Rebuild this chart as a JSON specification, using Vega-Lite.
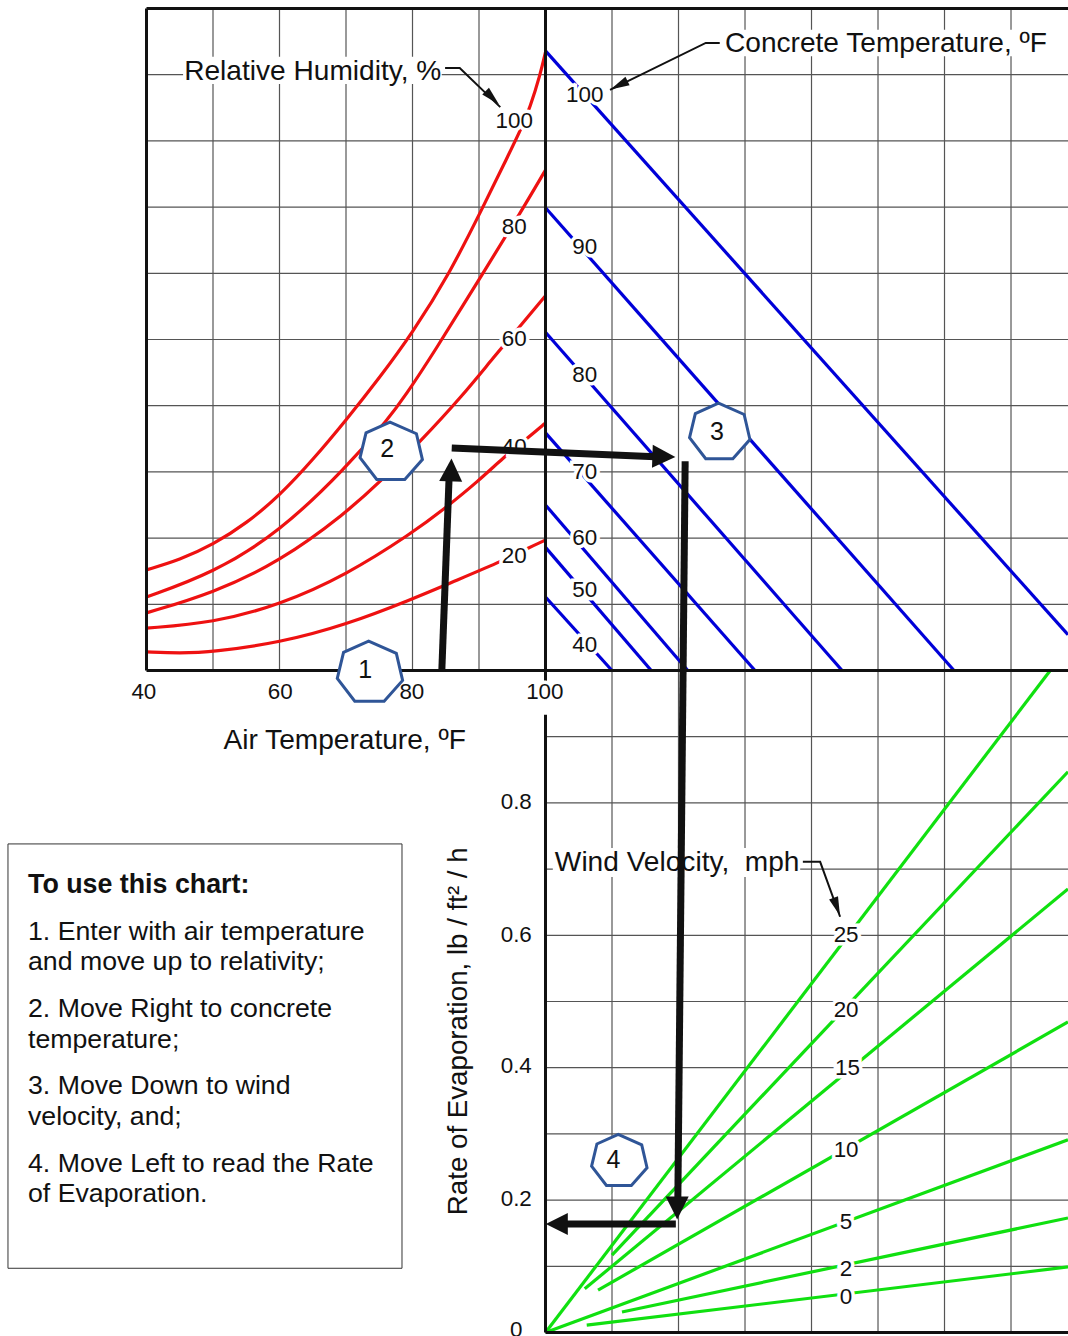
{
"$schema":"https://vega.github.io/schema/vega-lite/v6.json",
"autosize":{"type":"none"},
"width":1068,"height":1336,"padding":0,"background":"white",
"config":{"view":{"stroke":null},"text":{"font":"Liberation Sans"}},
"datasets":{
"gridH":[{"x":40,"x2":178.57,"y":1.1},{"x":40,"x2":178.57,"y":1.2},{"x":40,"x2":178.57,"y":1.3},{"x":40,"x2":178.57,"y":1.4},{"x":40,"x2":178.57,"y":1.5},{"x":40,"x2":178.57,"y":1.6},{"x":40,"x2":178.57,"y":1.7},{"x":40,"x2":178.57,"y":1.8},{"x":40,"x2":178.57,"y":1.9},
{"x":100,"x2":178.57,"y":0.1},{"x":100,"x2":178.57,"y":0.2},{"x":100,"x2":178.57,"y":0.3},{"x":100,"x2":178.57,"y":0.4},{"x":100,"x2":178.57,"y":0.5},{"x":100,"x2":178.57,"y":0.6},{"x":100,"x2":178.57,"y":0.7},{"x":100,"x2":178.57,"y":0.8},{"x":100,"x2":178.57,"y":0.9}],
"gridV":[{"x":50,"y":1,"y2":2},{"x":60,"y":1,"y2":2},{"x":70,"y":1,"y2":2},{"x":80,"y":1,"y2":2},{"x":90,"y":1,"y2":2},{"x":110,"y":0,"y2":2},{"x":120,"y":0,"y2":2},{"x":130,"y":0,"y2":2},{"x":140,"y":0,"y2":2},{"x":150,"y":0,"y2":2},{"x":160,"y":0,"y2":2},{"x":170,"y":0,"y2":2}],
"frameH":[{"x":40,"x2":178.57,"y":2},{"x":40,"x2":178.57,"y":1},{"x":100,"x2":178.57,"y":0}],
"frameV":[{"x":40,"y":1,"y2":2},{"x":100,"y":0.981,"y2":2},{"x":100,"y":0,"y2":0.933}],
"backs":[{"x":45.5,"x2":84.4,"y":1.927,"y2":1.886},{"x":126.5,"x2":175.9,"y":1.968,"y2":1.928},{"x":101.1,"x2":138.3,"y":0.732,"y2":0.688}],
"red":[
{"k":100,"x":40,"y":1.152},{"k":100,"x":45,"y":1.167},{"k":100,"x":50,"y":1.19},{"k":100,"x":55,"y":1.222},{"k":100,"x":60,"y":1.264},{"k":100,"x":65,"y":1.318},{"k":100,"x":70,"y":1.378},{"k":100,"x":75.1,"y":1.443},{"k":100,"x":80,"y":1.51},{"k":100,"x":85.6,"y":1.6},{"k":100,"x":90.6,"y":1.7},{"k":100,"x":94,"y":1.77},{"k":100,"x":96.2,"y":1.815},{"k":100,"x":97.7,"y":1.851},{"k":100,"x":99.2,"y":1.9},{"k":100,"x":100,"y":1.934},
{"k":80,"x":40,"y":1.111},{"k":80,"x":50,"y":1.147},{"k":80,"x":60,"y":1.209},{"k":80,"x":70,"y":1.306},{"k":80,"x":76.6,"y":1.383},{"k":80,"x":78.9,"y":1.415},{"k":80,"x":82.9,"y":1.475},{"k":80,"x":91.2,"y":1.61},{"k":80,"x":96.2,"y":1.691},{"k":80,"x":100,"y":1.756},
{"k":60,"x":40,"y":1.087},{"k":60,"x":50,"y":1.117},{"k":60,"x":60,"y":1.164},{"k":60,"x":70,"y":1.238},{"k":60,"x":75.1,"y":1.285},{"k":60,"x":81.1,"y":1.345},{"k":60,"x":87.6,"y":1.416},{"k":60,"x":92.1,"y":1.472},{"k":60,"x":96.6,"y":1.525},{"k":60,"x":100,"y":1.566},
{"k":40,"x":40,"y":1.064},{"k":40,"x":50,"y":1.072},{"k":40,"x":60,"y":1.099},{"k":40,"x":70,"y":1.144},{"k":40,"x":80,"y":1.208},{"k":40,"x":84.9,"y":1.245},{"k":40,"x":90,"y":1.287},{"k":40,"x":93.6,"y":1.321},{"k":40,"x":97.4,"y":1.352},{"k":40,"x":100,"y":1.374},
{"k":20,"x":40,"y":1.028},{"k":20,"x":45,"y":1.026},{"k":20,"x":50,"y":1.028},{"k":20,"x":60,"y":1.042},{"k":20,"x":70,"y":1.069},{"k":20,"x":80,"y":1.108},{"k":20,"x":85.6,"y":1.132},{"k":20,"x":93.2,"y":1.164},{"k":20,"x":97.4,"y":1.185},{"k":20,"x":100,"y":1.197}],
"blue":[
{"k":100,"x":100,"y":1.936},{"k":100,"x":178.57,"y":1.054},
{"k":90,"x":100,"y":1.699},{"k":90,"x":161.43,"y":1},
{"k":80,"x":100,"y":1.511},{"k":80,"x":144.6,"y":1},
{"k":70,"x":100,"y":1.359},{"k":70,"x":131.5,"y":1},
{"k":60,"x":100,"y":1.25},{"k":60,"x":121.4,"y":1},
{"k":50,"x":100,"y":1.186},{"k":50,"x":115.9,"y":1},
{"k":40,"x":100,"y":1.111},{"k":40,"x":110,"y":1}],
"green":[
{"k":25,"x":100,"y":0},{"k":25,"x":175.9,"y":1},
{"k":20,"x":110,"y":0.117},{"k":20,"x":178.57,"y":0.847},
{"k":15,"x":105.9,"y":0.066},{"k":15,"x":178.57,"y":0.67},
{"k":10,"x":107.9,"y":0.064},{"k":10,"x":178.57,"y":0.469},
{"k":5,"x":100,"y":0},{"k":5,"x":178.57,"y":0.291},
{"k":2,"x":111.5,"y":0.031},{"k":2,"x":178.57,"y":0.173},
{"k":0,"x":106.2,"y":0.011},{"k":0,"x":178.57,"y":0.099}],
"small":[
{"t":"40","x":39.6,"y":0.969},{"t":"60","x":60.1,"y":0.969},{"t":"80","x":79.9,"y":0.969},{"t":"100","x":99.9,"y":0.969},
{"t":"0.8","x":95.6,"y":0.803},{"t":"0.6","x":95.6,"y":0.602},{"t":"0.4","x":95.6,"y":0.404},{"t":"0.2","x":95.6,"y":0.203},{"t":"0","x":95.6,"y":0.005},
{"t":"100","x":95.3,"y":1.832},{"t":"80","x":95.3,"y":1.671},{"t":"60","x":95.3,"y":1.502},{"t":"40","x":95.3,"y":1.339},{"t":"20","x":95.3,"y":1.174},
{"t":"100","x":105.9,"y":1.871},{"t":"90","x":105.9,"y":1.641},{"t":"80","x":105.9,"y":1.448},{"t":"70","x":105.9,"y":1.301},{"t":"60","x":105.9,"y":1.202},{"t":"50","x":105.9,"y":1.123},{"t":"40","x":105.9,"y":1.04},
{"t":"25","x":145.2,"y":0.602},{"t":"20","x":145.2,"y":0.489},{"t":"15","x":145.4,"y":0.401},{"t":"10","x":145.2,"y":0.277},{"t":"5","x":145.2,"y":0.168},{"t":"2","x":145.2,"y":0.097},{"t":"0","x":145.2,"y":0.055}],
"titles":[
{"t":"Relative Humidity, %","x":65,"y":1.907},
{"t":"Concrete Temperature, ºF","x":151.2,"y":1.948},
{"t":"Air Temperature, ºF","x":69.8,"y":0.895},
{"t":"Wind Velocity,\u00a0 mph","x":119.8,"y":0.711}],
"leaders":[
{"k":"rh","o":1,"x":84.9,"y":1.91},{"k":"rh","o":2,"x":87.1,"y":1.91},{"k":"rh","o":3,"x":93.2,"y":1.851},
{"k":"ct","o":1,"x":126.2,"y":1.948},{"k":"ct","o":2,"x":124.1,"y":1.948},{"k":"ct","o":3,"x":109.7,"y":1.877},
{"k":"wv","o":1,"x":138.7,"y":0.711},{"k":"wv","o":2,"x":141.3,"y":0.711},{"k":"wv","o":3,"x":144.3,"y":0.628}],
"arrows":[
{"k":"1","o":1,"x":84.4,"y":0.998},{"k":"1","o":2,"x":85.5,"y":1.291},
{"k":"2","o":1,"x":85.9,"y":1.336},{"k":"2","o":2,"x":116.5,"y":1.323},
{"k":"3","o":1,"x":121,"y":1.316},{"k":"3","o":2,"x":119.9,"y":0.2},
{"k":"4","o":1,"x":119.6,"y":0.164},{"k":"4","o":2,"x":102.9,"y":0.164}],
"steps":[{"t":"1","x":72.9,"y":1.0005},{"t":"2","x":76.2,"y":1.335},{"t":"3","x":125.8,"y":1.36},{"t":"4","x":110.2,"y":0.26}],
"note":[
{"t":"1. Enter with air temperature","x":22.18,"y":0.606},
{"t":"and move up to relativity;","x":22.18,"y":0.561},
{"t":"2. Move Right to concrete","x":22.18,"y":0.49},
{"t":"temperature;","x":22.18,"y":0.443},
{"t":"3. Move Down to wind","x":22.18,"y":0.374},
{"t":"velocity, and;","x":22.18,"y":0.327},
{"t":"4. Move Left to read the Rate","x":22.18,"y":0.256},
{"t":"of Evaporation.","x":22.18,"y":0.211}]
},
"encoding":{
"x":{"field":"x","type":"quantitative","axis":null,"scale":{"domain":[17.97,178.57],"nice":false,"zero":false}},
"y":{"field":"y","type":"quantitative","axis":null,"scale":{"domain":[-0.0053,2.0128],"nice":false,"zero":false}}
},
"layer":[
{"data":{"name":"gridH"},"mark":{"type":"rule","color":"#555","strokeWidth":1.2},"encoding":{"x2":{"field":"x2"}}},
{"data":{"name":"gridV"},"mark":{"type":"rule","color":"#555","strokeWidth":1.2},"encoding":{"y2":{"field":"y2"}}},
{"data":{"name":"red"},"mark":{"type":"line","color":"#ee1111","strokeWidth":3.2,"interpolate":"basis"},"encoding":{"detail":{"field":"k"}}},
{"data":{"name":"blue"},"mark":{"type":"line","color":"#0000d8","strokeWidth":3.2},"encoding":{"detail":{"field":"k"}}},
{"data":{"name":"green"},"mark":{"type":"line","color":"#10e010","strokeWidth":3.2},"encoding":{"detail":{"field":"k"}}},
{"data":{"name":"frameH"},"mark":{"type":"rule","color":"#111","strokeWidth":3},"encoding":{"x2":{"field":"x2"}}},
{"data":{"name":"frameV"},"mark":{"type":"rule","color":"#111","strokeWidth":3},"encoding":{"y2":{"field":"y2"}}},
{"data":{"name":"backs"},"mark":{"type":"rect","fill":"white","stroke":null},"encoding":{"x2":{"field":"x2"},"y2":{"field":"y2"}}},
{"data":{"name":"small"},"mark":{"type":"text","fontSize":22.4,"font":"Liberation Sans","fill":"white","stroke":"white","strokeWidth":7,"baseline":"middle","dy":1},"encoding":{"text":{"field":"t"}}},
{"data":{"name":"small"},"mark":{"type":"text","fontSize":22.4,"font":"Liberation Sans","color":"#111","baseline":"middle","dy":1},"encoding":{"text":{"field":"t"}}},
{"data":{"name":"titles"},"mark":{"type":"text","fontSize":28.1,"font":"Liberation Sans","color":"#111","baseline":"middle","dy":1.5},"encoding":{"text":{"field":"t"}}},
{"data":{"values":[{"t":"Rate of Evaporation, lb / ft² / h","x":87,"y":0.455}]},"mark":{"type":"text","fontSize":27.7,"font":"Liberation Sans","color":"#111","baseline":"middle","angle":270},"encoding":{"text":{"field":"t"}}},
{"data":{"name":"leaders"},"mark":{"type":"line","color":"#111","strokeWidth":2},"encoding":{"detail":{"field":"k"},"order":{"field":"o"}}},
{"data":{"values":[{"x":92,"y":1.865}]},"mark":{"type":"point","shape":"M0,-1L0.5,1L-0.5,1Z","filled":true,"opacity":1,"color":"#111","size":360,"angle":135}},
{"data":{"values":[{"x":111.05,"y":1.884}]},"mark":{"type":"point","shape":"M0,-1L0.5,1L-0.5,1Z","filled":true,"opacity":1,"color":"#111","size":360,"angle":244}},
{"data":{"values":[{"x":143.8,"y":0.643}]},"mark":{"type":"point","shape":"M0,-1L0.5,1L-0.5,1Z","filled":true,"opacity":1,"color":"#111","size":360,"angle":160}},
{"data":{"name":"arrows"},"mark":{"type":"line","color":"#111","strokeWidth":7},"encoding":{"detail":{"field":"k"},"order":{"field":"o"}}},
{"data":{"values":[{"x":85.8,"y":1.303}]},"mark":{"type":"point","shape":"M0,-1L1,1L-1,1Z","filled":true,"opacity":1,"color":"#111","size":529,"angle":2}},
{"data":{"values":[{"x":117.8,"y":1.323}]},"mark":{"type":"point","shape":"M0,-1L1,1L-1,1Z","filled":true,"opacity":1,"color":"#111","size":529,"angle":92}},
{"data":{"values":[{"x":119.8,"y":0.188}]},"mark":{"type":"point","shape":"M0,-1L1,1L-1,1Z","filled":true,"opacity":1,"color":"#111","size":529,"angle":180}},
{"data":{"values":[{"x":101.7,"y":0.164}]},"mark":{"type":"point","shape":"M0,-1L1,1L-1,1Z","filled":true,"opacity":1,"color":"#111","size":484,"angle":270}},
{"data":{"values":[{"x":73.6,"y":0.997}]},"mark":{"type":"point","shape":"M-0.04,-0.95L0.8,-0.58L0.99,0.24L0.43,0.87L-0.46,0.87L-0.99,0.18L-0.8,-0.61Z","filled":true,"fill":"white","stroke":"#2f5597","strokeWidth":3,"opacity":1,"size":4356}},
{"data":{"values":[{"x":76.8,"y":1.330}]},"mark":{"type":"point","shape":"M-0.04,-0.95L0.8,-0.58L0.99,0.24L0.43,0.87L-0.46,0.87L-0.99,0.18L-0.8,-0.61Z","filled":true,"fill":"white","stroke":"#2f5597","strokeWidth":3,"opacity":1,"size":3969}},
{"data":{"values":[{"x":126.2,"y":1.360}]},"mark":{"type":"point","shape":"M-0.04,-0.95L0.8,-0.58L0.99,0.24L0.43,0.87L-0.46,0.87L-0.99,0.18L-0.8,-0.61Z","filled":true,"fill":"white","stroke":"#2f5597","strokeWidth":3,"opacity":1,"size":3721}},
{"data":{"values":[{"x":111.1,"y":0.259}]},"mark":{"type":"point","shape":"M-0.04,-0.95L0.8,-0.58L0.99,0.24L0.43,0.87L-0.46,0.87L-0.99,0.18L-0.8,-0.61Z","filled":true,"fill":"white","stroke":"#2f5597","strokeWidth":3,"opacity":1,"size":3136}},
{"data":{"name":"steps"},"mark":{"type":"text","fontSize":25,"font":"Liberation Sans","color":"#111","baseline":"middle"},"encoding":{"text":{"field":"t"}}},
{"data":{"values":[{"x":19.17,"x2":78.42,"y":0.738,"y2":0.097}]},"mark":{"type":"rect","fill":"white","stroke":"#333","strokeWidth":1},"encoding":{"x2":{"field":"x2"},"y2":{"field":"y2"}}},
{"data":{"values":[{"t":"To use this chart:","x":22.18,"y":0.677}]},"mark":{"type":"text","fontSize":26.8,"font":"Liberation Sans","fontWeight":"bold","color":"#111","align":"left","baseline":"middle","dy":1},"encoding":{"text":{"field":"t"}}},
{"data":{"name":"note"},"mark":{"type":"text","fontSize":26.7,"font":"Liberation Sans","color":"#111","align":"left","baseline":"middle","dy":1},"encoding":{"text":{"field":"t"}}}
]
}
